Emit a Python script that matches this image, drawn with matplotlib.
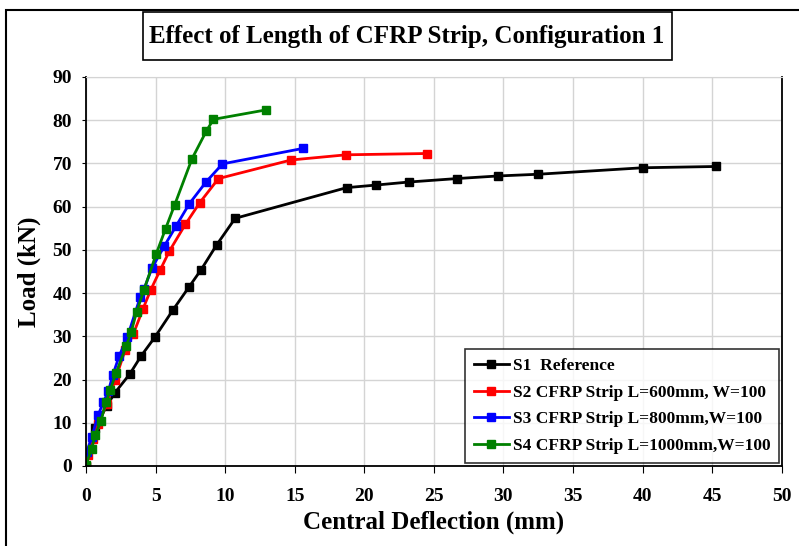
import matplotlib.pyplot as plt
from matplotlib.patches import Rectangle

# Donnees (deflexion en mm, charge en kN)
s1_x = [0.0, 0.65, 1.49, 2.09, 3.13, 3.97, 4.95, 6.27, 7.40, 8.27, 9.40, 10.72, 18.73, 20.85, 23.2, 26.65, 29.6, 32.5, 40.0, 45.3]
s1_y = [0.0, 8.8, 13.9, 17.0, 21.2, 25.5, 29.8, 36.2, 41.4, 45.4, 51.2, 57.3, 64.4, 65.0, 65.7, 66.5, 67.1, 67.5, 69.0, 69.3]

s2_x = [0.0, 0.17, 0.53, 0.89, 1.49, 2.09, 2.81, 3.41, 4.09, 4.66, 5.34, 5.99, 7.14, 8.17, 9.52, 14.74, 18.7, 24.48]
s2_y = [0.0, 2.5, 6.3, 9.8, 14.4, 19.8, 26.8, 30.6, 36.3, 40.8, 45.4, 49.7, 55.9, 60.9, 66.5, 70.8, 72.0, 72.3]

s3_x = [0.05, 0.41, 0.89, 1.25, 1.61, 1.92, 2.38, 2.98, 3.89, 4.18, 4.74, 5.63, 6.49, 7.43, 8.65, 9.81, 15.63]
s3_y = [3.2, 6.7, 11.9, 14.8, 17.3, 21.0, 25.4, 29.9, 39.0, 41.0, 45.8, 50.9, 55.6, 60.7, 65.8, 69.9, 73.5]

s4_x = [0.0, 0.41, 0.65, 1.06, 1.44, 1.73, 2.16, 2.88, 3.25, 3.63, 4.16, 5.05, 5.72, 6.37, 7.62, 8.65, 9.16, 12.96]
s4_y = [0.3, 4.0, 7.1, 10.3, 14.8, 17.5, 21.5, 27.7, 31.0, 35.6, 40.7, 49.1, 54.9, 60.4, 71.1, 77.5, 80.2, 82.4]

series = [
    (s1_x, s1_y, 'black', 'S1  Reference'),
    (s2_x, s2_y, 'red', 'S2 CFRP Strip L=600mm, W=100'),
    (s3_x, s3_y, 'blue', 'S3 CFRP Strip L=800mm,W=100'),
    (s4_x, s4_y, 'green', 'S4 CFRP Strip L=1000mm,W=100'),
]

plt.rcParams['font.family'] = ['Liberation Serif', 'DejaVu Serif']
plt.rcParams['font.weight'] = 'bold'

W, H = 799, 546
ax_w, ax_h = 695.7, 389
fig = plt.figure(figsize=(W / 100, H / 100), dpi=100)
ax = fig.add_axes([86 / W, 1 - 466 / H, ax_w / W, ax_h / H])

for x, y, c, lab in series:
    ax.plot(x, y, color=c, linewidth=2, marker='s', markersize=6, label=lab)

ax.set_xlim(0, 50)
ax.set_ylim(0, 90)
ax.set_xticks(range(0, 51, 5))
ax.set_yticks(range(0, 91, 10))
ax.grid(True, color='#d4d4d4', linewidth=1)
ax.set_axisbelow(True)
ax.tick_params(axis='x', direction='out', length=5, pad=11, labelsize=14)
ax.tick_params(axis='y', direction='out', length=3, pad=7, labelsize=14)
for lbl in ax.get_xticklabels() + ax.get_yticklabels():
    lbl.set_fontweight('bold')
ax.spines['top'].set_color('#d4d4d4')
for s in ['left', 'bottom', 'right']:
    ax.spines[s].set_linewidth(1.3)

ax.set_xlabel('Central Deflection (mm)', fontsize=18, fontweight='bold', labelpad=4)
ax.set_ylabel('Load (kN)', fontsize=18, fontweight='bold', labelpad=8)

leg = ax.legend(loc='lower right', fontsize=12.5, frameon=True, fancybox=False,
                edgecolor='black', handlelength=2.0, borderpad=0.5,
                labelspacing=0.6, handletextpad=0.25, borderaxespad=0,
                bbox_to_anchor=(1 - 2.5 / ax_w, 3.5 / ax_h))
leg.get_frame().set_linewidth(1.2)
for t in leg.get_texts():
    t.set_fontweight('bold')

# cadre exterieur et titre encadre
fig.patches.append(Rectangle((6 / W, -0.1), 1.2, 1.1 - 10 / H, transform=fig.transFigure,
                             fill=False, edgecolor='black', linewidth=1.5))
fig.patches.append(Rectangle((143 / W, 1 - 60 / H), 529 / W, 48 / H, transform=fig.transFigure,
                             fill=False, edgecolor='black', linewidth=1.2))
fig.text(407 / W, 1 - 37 / H, 'Effect of Length of CFRP Strip, Configuration 1',
         ha='center', va='center', fontsize=18, fontweight='bold')

plt.savefig('out.png', dpi=100)
